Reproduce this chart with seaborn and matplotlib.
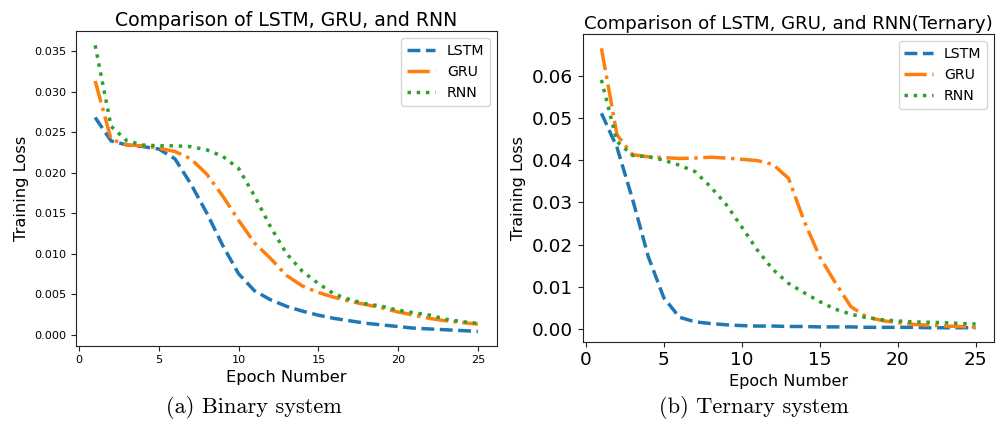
import matplotlib
matplotlib.use("Agg")
import matplotlib.pyplot as plt
import seaborn as sns
import pandas as pd

# Training loss per epoch for the three recurrent architectures
epochs = list(range(1, 26))

binary_lstm = [0.0268, 0.0239, 0.0234, 0.0232, 0.0229, 0.0217, 0.0186, 0.0150, 0.0110, 0.0075,
               0.0054, 0.0043, 0.0035, 0.0029, 0.0024, 0.0020, 0.0017, 0.0014, 0.0012, 0.0010,
               0.0008, 0.0007, 0.0006, 0.0005, 0.0004]
binary_gru = [0.0313, 0.0241, 0.0234, 0.0233, 0.0230, 0.0226, 0.0217, 0.0198, 0.0171, 0.0141,
              0.0113, 0.0094, 0.0073, 0.0060, 0.0052, 0.0046, 0.0041, 0.0037, 0.0033, 0.0028,
              0.0024, 0.0020, 0.0017, 0.0015, 0.0013]
binary_rnn = [0.0357, 0.0257, 0.0239, 0.0234, 0.0233, 0.0233, 0.0232, 0.0228, 0.0220, 0.0205,
              0.0171, 0.0133, 0.0100, 0.0078, 0.0063, 0.0050, 0.0043, 0.0038, 0.0035, 0.0030,
              0.0027, 0.0024, 0.0019, 0.0016, 0.0014]

ternary_lstm = [0.0511, 0.0430, 0.0307, 0.0172, 0.0074, 0.0028, 0.0017, 0.0013, 0.0010, 0.0008,
                0.0007, 0.0007, 0.0006, 0.0006, 0.0005, 0.0005, 0.0005, 0.0004, 0.0004, 0.0004,
                0.0004, 0.0003, 0.0003, 0.0003, 0.0003]
ternary_gru = [0.0665, 0.0460, 0.0413, 0.0408, 0.0406, 0.0404, 0.0405, 0.0407, 0.0405, 0.0402,
               0.0399, 0.0390, 0.0357, 0.0256, 0.0171, 0.0110, 0.0053, 0.0029, 0.0020, 0.0015,
               0.0011, 0.0009, 0.0007, 0.0006, 0.0004]
ternary_rnn = [0.0590, 0.0444, 0.0411, 0.0408, 0.0400, 0.0388, 0.0373, 0.0337, 0.0295, 0.0242,
               0.0187, 0.0141, 0.0108, 0.0086, 0.0065, 0.0047, 0.0035, 0.0027, 0.0022, 0.0019,
               0.0017, 0.0016, 0.0015, 0.0013, 0.0012]

models = ["LSTM", "GRU", "RNN"]
colors = {"LSTM": "#1f77b4", "GRU": "#ff7f0e", "RNN": "#2ca02c"}
styles = {"LSTM": "--", "GRU": "-.", "RNN": ":"}

titles = ["Comparison of LSTM, GRU, and RNN", "Comparison of LSTM, GRU, and RNN(Ternary)"]
captions = ["(a) Binary system", "(b) Ternary system"]

sns.set_style("ticks")
plt.rcParams["font.family"] = ["DejaVu Sans"]
plt.rcParams.update({
    "text.color": "black",
    "axes.labelcolor": "black",
    "xtick.color": "#222222",
    "ytick.color": "#222222",
    "xtick.labelcolor": "black",
    "ytick.labelcolor": "black",
    "axes.edgecolor": "#222222",
})

fig = plt.figure(figsize=(9.99, 4.30), dpi=100)

panels = [
    dict(rect=[0.0761, 0.196, 0.4214, 0.7319], series=[binary_lstm, binary_gru, binary_rnn],
         tick=8.1, title=13.6, label=11.7, cap_x=254 / 999),
    dict(rect=[0.5833, 0.2053, 0.4120, 0.7149], series=[ternary_lstm, ternary_gru, ternary_rnn],
         tick=13.3, title=13.1, label=11.5, cap_x=753.5 / 999),
]

for i, p in enumerate(panels):
    ax = fig.add_axes(p["rect"])
    for name, vals in zip(models, p["series"]):
        df = pd.DataFrame({"Epoch": epochs, "Loss": vals})
        sns.lineplot(data=df, x="Epoch", y="Loss", ax=ax, color=colors[name],
                     linestyle=styles[name], linewidth=2.5, label=name)
    ax.set_title(titles[i], fontsize=p["title"], pad=3.8)
    ax.set_xlabel("Epoch Number", fontsize=p["label"], labelpad=3)
    ax.set_ylabel("Training Loss", fontsize=p["label"])
    ax.tick_params(labelsize=p["tick"])
    ax.set_xticks([0, 5, 10, 15, 20, 25])
    ax.legend(loc="upper right", fontsize=10.2)
    fig.text(p["cap_x"], 17 / 430, captions[i], family="cmr10", fontsize=16.1,
             ha="center", va="baseline")

fig.savefig("out.png", dpi=100)
